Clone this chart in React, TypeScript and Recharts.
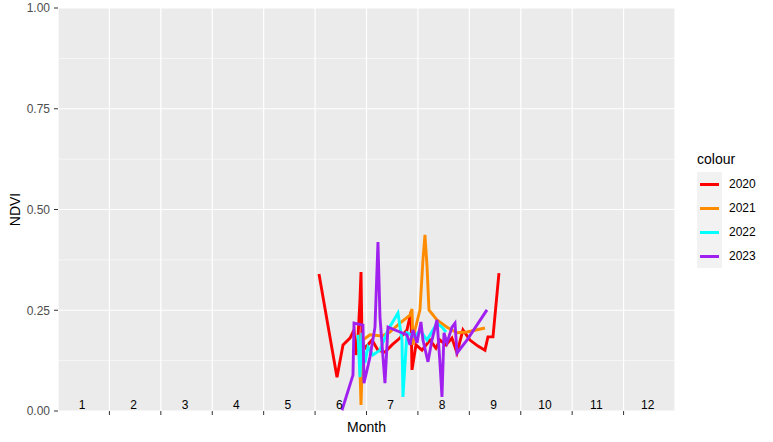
import React from 'react';
import { ComposedChart, Line, Scatter, XAxis, YAxis, CartesianGrid, ReferenceLine } from 'recharts';

// x = month position (0 = start of Jan, 12 = end of Dec), v = NDVI
const ndvi2020 = [
  { m: 5.076, v: 0.34 }, { m: 5.426, v: 0.084 }, { m: 5.543, v: 0.164 }, { m: 5.679, v: 0.181 },
  { m: 5.757, v: 0.201 }, { m: 5.795, v: 0.139 }, { m: 5.834, v: 0.181 }, { m: 5.873, v: 0.275 },
  { m: 5.893, v: 0.345 }, { m: 5.912, v: 0.176 }, { m: 5.97, v: 0.156 }, { m: 6.107, v: 0.176 },
  { m: 6.223, v: 0.151 }, { m: 6.359, v: 0.146 }, { m: 6.496, v: 0.164 }, { m: 6.651, v: 0.181 },
  { m: 6.787, v: 0.201 }, { m: 6.865, v: 0.246 }, { m: 6.885, v: 0.102 }, { m: 6.962, v: 0.164 },
  { m: 7.079, v: 0.151 }, { m: 7.235, v: 0.176 }, { m: 7.351, v: 0.156 }, { m: 7.429, v: 0.176 },
  { m: 7.546, v: 0.164 }, { m: 7.662, v: 0.181 }, { m: 7.76, v: 0.144 }, { m: 7.876, v: 0.201 },
  { m: 8.012, v: 0.176 }, { m: 8.168, v: 0.161 }, { m: 8.304, v: 0.151 }, { m: 8.362, v: 0.184 },
  { m: 8.46, v: 0.184 }, { m: 8.576, v: 0.342 },
];

const ndvi2021 = [
  { m: 5.854, v: 0.189 }, { m: 5.893, v: 0.015 }, { m: 5.931, v: 0.176 }, { m: 6.067, v: 0.189 },
  { m: 6.301, v: 0.186 }, { m: 6.456, v: 0.196 }, { m: 6.651, v: 0.218 }, { m: 6.846, v: 0.238 },
  { m: 6.885, v: 0.253 }, { m: 6.904, v: 0.164 }, { m: 6.943, v: 0.201 }, { m: 7.04, v: 0.251 },
  { m: 7.098, v: 0.375 }, { m: 7.137, v: 0.437 }, { m: 7.176, v: 0.362 }, { m: 7.215, v: 0.251 },
  { m: 7.371, v: 0.226 }, { m: 7.565, v: 0.208 }, { m: 7.76, v: 0.194 }, { m: 7.954, v: 0.196 },
  { m: 8.304, v: 0.206 },
];

const ndvi2022 = [
  { m: 5.834, v: 0.189 }, { m: 5.873, v: 0.084 }, { m: 5.912, v: 0.194 }, { m: 5.97, v: 0.119 },
  { m: 6.029, v: 0.159 }, { m: 6.126, v: 0.139 }, { m: 6.262, v: 0.151 }, { m: 6.418, v: 0.201 },
  { m: 6.612, v: 0.243 }, { m: 6.69, v: 0.176 }, { m: 6.709, v: 0.035 }, { m: 6.787, v: 0.194 },
  { m: 6.943, v: 0.184 }, { m: 7.04, v: 0.201 }, { m: 7.176, v: 0.176 }, { m: 7.371, v: 0.218 },
  { m: 7.468, v: 0.208 }, { m: 7.546, v: 0.196 },
];

const ndvi2023 = [
  { m: 5.523, v: 0.002 }, { m: 5.737, v: 0.089 }, { m: 5.757, v: 0.218 }, { m: 5.931, v: 0.213 },
  { m: 5.951, v: 0.069 }, { m: 6.068, v: 0.134 }, { m: 6.165, v: 0.208 }, { m: 6.223, v: 0.419 },
  { m: 6.262, v: 0.233 }, { m: 6.359, v: 0.069 }, { m: 6.418, v: 0.208 }, { m: 6.651, v: 0.196 },
  { m: 6.787, v: 0.189 }, { m: 6.846, v: 0.164 }, { m: 6.904, v: 0.201 }, { m: 6.982, v: 0.169 },
  { m: 7.059, v: 0.221 }, { m: 7.098, v: 0.176 }, { m: 7.196, v: 0.122 }, { m: 7.273, v: 0.176 },
  { m: 7.371, v: 0.226 }, { m: 7.429, v: 0.119 }, { m: 7.468, v: 0.035 }, { m: 7.507, v: 0.194 },
  { m: 7.565, v: 0.169 }, { m: 7.662, v: 0.208 }, { m: 7.721, v: 0.218 }, { m: 7.76, v: 0.144 },
  { m: 7.954, v: 0.176 }, { m: 8.343, v: 0.251 },
];

const series = [
  { name: '2020', color: '#FF0000', data: ndvi2020 },
  { name: '2021', color: '#FF8C00', data: ndvi2021 },
  { name: '2022', color: '#00FFFF', data: ndvi2022 },
  { name: '2023', color: '#A020F0', data: ndvi2023 },
];

const monthNames = ['1', '2', '3', '4', '5', '6', '7', '8', '9', '10', '11', '12'];
const monthBreaks = [1, 2, 3, 4, 5, 6, 7, 8, 9, 10, 11];
const yTicks = [0, 0.25, 0.5, 0.75, 1];
const yMinor = [0.125, 0.375, 0.625, 0.875];

const monthLabels = monthNames.map((label, i) => ({ m: i + 0.47, v: 0, label }));

const FONT = '"Liberation Sans", Arial, sans-serif';

export default function App() {
  return (
    <div style={{ position: 'absolute', left: 0, top: 0, width: 773, height: 442, background: '#fff', fontFamily: FONT }}>
      <ComposedChart width={773} height={442} margin={{ top: 8, right: 98, bottom: 0, left: 0 }}>
        <CartesianGrid fill="#EBEBEB" fillOpacity={1} stroke="#FFFFFF" strokeWidth={1.2} />
        {yMinor.map((y) => (
          <ReferenceLine key={y} y={y} stroke="#FFFFFF" strokeWidth={0.6} />
        ))}
        <XAxis
          type="number"
          dataKey="m"
          domain={[0, 12]}
          ticks={monthBreaks}
          tickFormatter={() => ''}
          axisLine={false}
          tickSize={4}
          tickLine={{ stroke: '#333333', strokeWidth: 1 }}
          height={31}
          allowDataOverflow
          label={(props: any) => {
            const vb = props.viewBox;
            return (
              <text x={vb.x + vb.width / 2} y={432} textAnchor="middle" fontSize={14} fill="#000" fontFamily={FONT}>
                Month
              </text>
            );
          }}
        />
        <YAxis
          type="number"
          domain={[0, 1]}
          ticks={yTicks}
          tickFormatter={(v: number) => v.toFixed(2)}
          axisLine={false}
          tickSize={4}
          tickMargin={4}
          tickLine={{ stroke: '#333333', strokeWidth: 1 }}
          tick={{ fill: '#4D4D4D', fontSize: 12, fontFamily: FONT }}
          width={58}
          allowDataOverflow
          label={(props: any) => {
            const vb = props.viewBox;
            const cy = vb.y + vb.height / 2;
            return (
              <text x={20} y={cy} transform={`rotate(-90 20 ${cy})`} textAnchor="middle" fontSize={14} fill="#000" fontFamily={FONT}>
                NDVI
              </text>
            );
          }}
        />
        {series.map((s) => (
          <Line
            key={s.name}
            data={s.data}
            dataKey="v"
            name={s.name}
            type="linear"
            stroke={s.color}
            strokeWidth={2.9}
            dot={false}
            activeDot={false}
            isAnimationActive={false}
          />
        ))}
        <Scatter
          data={monthLabels}
          dataKey="v"
          isAnimationActive={false}
          shape={(p: any) => (
            <text x={p.cx} y={p.cy - 2.5} textAnchor="middle" fontSize={12} fill="#000" fontFamily={FONT}>
              {p.payload.label}
            </text>
          )}
        />
      </ComposedChart>
      <div style={{ position: 'absolute', left: 697, top: 150, fontFamily: FONT }}>
        <div style={{ fontSize: 14, lineHeight: '18px', height: 22 }}>colour</div>
        <div style={{ position: 'relative' }}>
          {series.map((s) => (
            <div key={s.name} style={{ display: 'flex', alignItems: 'center', height: 24 }}>
              <div style={{ width: 25, height: 24, background: '#F2F2F2', position: 'relative' }}>
                <div style={{ position: 'absolute', left: 3, right: 3, top: 10.5, height: 3, background: s.color }} />
              </div>
              <span style={{ fontSize: 12, marginLeft: 7 }}>{s.name}</span>
            </div>
          ))}
        </div>
      </div>
    </div>
  );
}
